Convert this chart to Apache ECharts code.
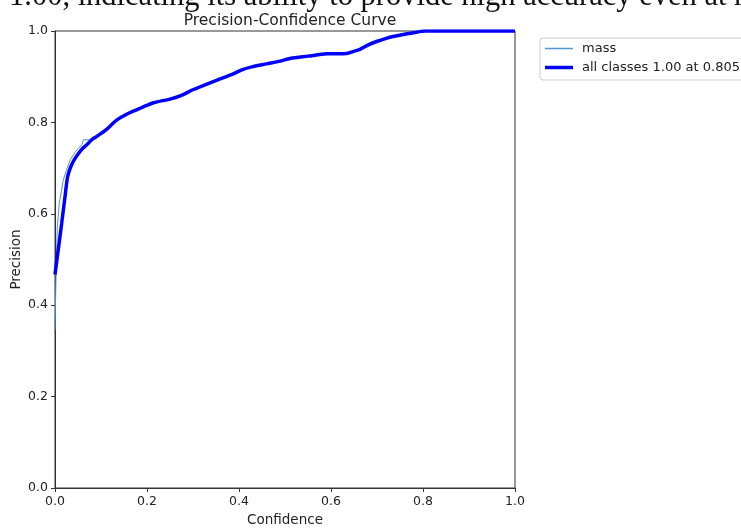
<!DOCTYPE html>
<html>
<head>
<meta charset="utf-8">
<script src="https://cdn.jsdelivr.net/npm/echarts@6/dist/echarts.min.js"></script>
<style>
html,body{margin:0;padding:0;background:#fff;}
#c{width:741px;height:528px;}
</style>
</head>
<body>
<div id="c"></div>
<script>
const titleText = 'Precision-Confidence Curve';
const topCaption = '1.00, indicating its ability to provide high accuracy even at high';
const xTicks = [0, 0.2, 0.4, 0.6, 0.8, 1.0];
const yTicks = [0, 0.2, 0.4, 0.6, 0.8, 1.0];

const massConf = [0, 0.002, 0.005, 0.0094, 0.018, 0.025, 0.033, 0.045, 0.058, 0.062, 0.075, 0.085, 0.094, 0.11, 0.134, 0.16, 0.19, 0.214, 0.25, 0.272, 0.301, 0.33, 0.359, 0.385, 0.406, 0.43, 0.46, 0.49, 0.511, 0.55, 0.591, 0.634, 0.648, 0.663, 0.68, 0.699, 0.72, 0.735, 0.76, 0.779, 0.805, 0.9, 1.0];
const massPrec = [0.346, 0.45, 0.572, 0.623, 0.674, 0.696, 0.718, 0.737, 0.751, 0.762, 0.762, 0.768, 0.772, 0.783, 0.805, 0.820, 0.833, 0.843, 0.851, 0.858, 0.872, 0.884, 0.895, 0.905, 0.915, 0.922, 0.928, 0.934, 0.940, 0.945, 0.950, 0.951, 0.955, 0.960, 0.969, 0.977, 0.984, 0.988, 0.993, 0.996, 1.0, 1.0, 1.0];

const allConf = [0, 0.007, 0.0145, 0.0217, 0.027, 0.031, 0.036, 0.043, 0.051, 0.06, 0.069, 0.08, 0.09, 0.11, 0.134, 0.16, 0.19, 0.214, 0.25, 0.272, 0.301, 0.33, 0.359, 0.385, 0.406, 0.43, 0.46, 0.49, 0.511, 0.55, 0.591, 0.634, 0.648, 0.663, 0.68, 0.699, 0.72, 0.735, 0.76, 0.779, 0.805, 0.9, 1.0];
const allPrec = [0.467, 0.521, 0.579, 0.637, 0.679, 0.694, 0.707, 0.72, 0.732, 0.743, 0.751, 0.762, 0.769, 0.783, 0.805, 0.820, 0.833, 0.843, 0.851, 0.858, 0.872, 0.884, 0.895, 0.905, 0.915, 0.922, 0.928, 0.934, 0.940, 0.945, 0.950, 0.951, 0.955, 0.960, 0.969, 0.977, 0.984, 0.988, 0.993, 0.996, 1.0, 1.0, 1.0];

const seriesNames = ['mass', 'all classes 1.00 at 0.805'];

const font = 'DejaVu Sans';
const chart = echarts.init(document.getElementById('c'), null, {renderer: 'canvas'});
const axisCommon = {
  type: 'value', min: 0, max: 1, interval: 0.2,
  axisLine: {show: true, onZero: false, lineStyle: {color: '#333', width: 1}},
  axisTick: {show: true, length: 4, lineStyle: {color: '#333'}},
  axisLabel: {color: '#222', fontFamily: font, fontSize: 12.5, margin: 7, formatter: v => v.toFixed(1)},
  splitLine: {show: false},
  nameLocation: 'middle',
  nameMoveOverlap: false,
  nameTextStyle: {color: '#222', fontFamily: font, fontSize: 13.5}
};
chart.setOption({
  animation: false,
  backgroundColor: '#fff',
  grid: {left: 55, right: 226, top: 31, bottom: 40, show: true, borderColor: '#333', borderWidth: 1, containLabel: false, outerBoundsMode: 'none'},
  title: {text: titleText, left: 285, textAlign: 'center', top: 8, textStyle: {fontFamily: font, fontSize: 15.5, fontWeight: 'normal', color: '#222'}},
  graphic: [{
    type: 'text', left: 9, top: -19,
    style: {text: topCaption, font: '30.5px "Liberation Serif"', fill: '#111'}
  }],
  legend: {
    left: 540, top: 38, orient: 'vertical', itemGap: 6, itemWidth: 28, itemHeight: 14,
    padding: [4, 8, 6, 5],
    borderColor: '#ccc', borderWidth: 1, borderRadius: 3,
    textStyle: {fontFamily: font, fontSize: 13, color: '#222', padding: [0, 0, 0, 4]},
    data: [
      {name: seriesNames[0], icon: 'path://M0,0h28v1.5h-28z'},
      {name: seriesNames[1], icon: 'path://M0,0h28v3.5h-28z'}
    ]
  },
  xAxis: Object.assign({}, axisCommon, {name: 'Confidence', nameGap: 25}),
  yAxis: Object.assign({}, axisCommon, {name: 'Precision', nameGap: 32}),
  series: [
    {name: seriesNames[0], type: 'line', symbol: 'none', smooth: false,
     lineStyle: {color: '#4f93cf', width: 1}, itemStyle: {color: '#4f93cf'},
     data: massConf.map((x, i) => [x, massPrec[i]])},
    {name: seriesNames[1], type: 'line', symbol: 'none', smooth: 0.3,
     lineStyle: {color: '#0000ff', width: 3.5}, itemStyle: {color: '#0000ff'},
     data: allConf.map((x, i) => [x, allPrec[i]])}
  ]
});
</script>
</body>
</html>
